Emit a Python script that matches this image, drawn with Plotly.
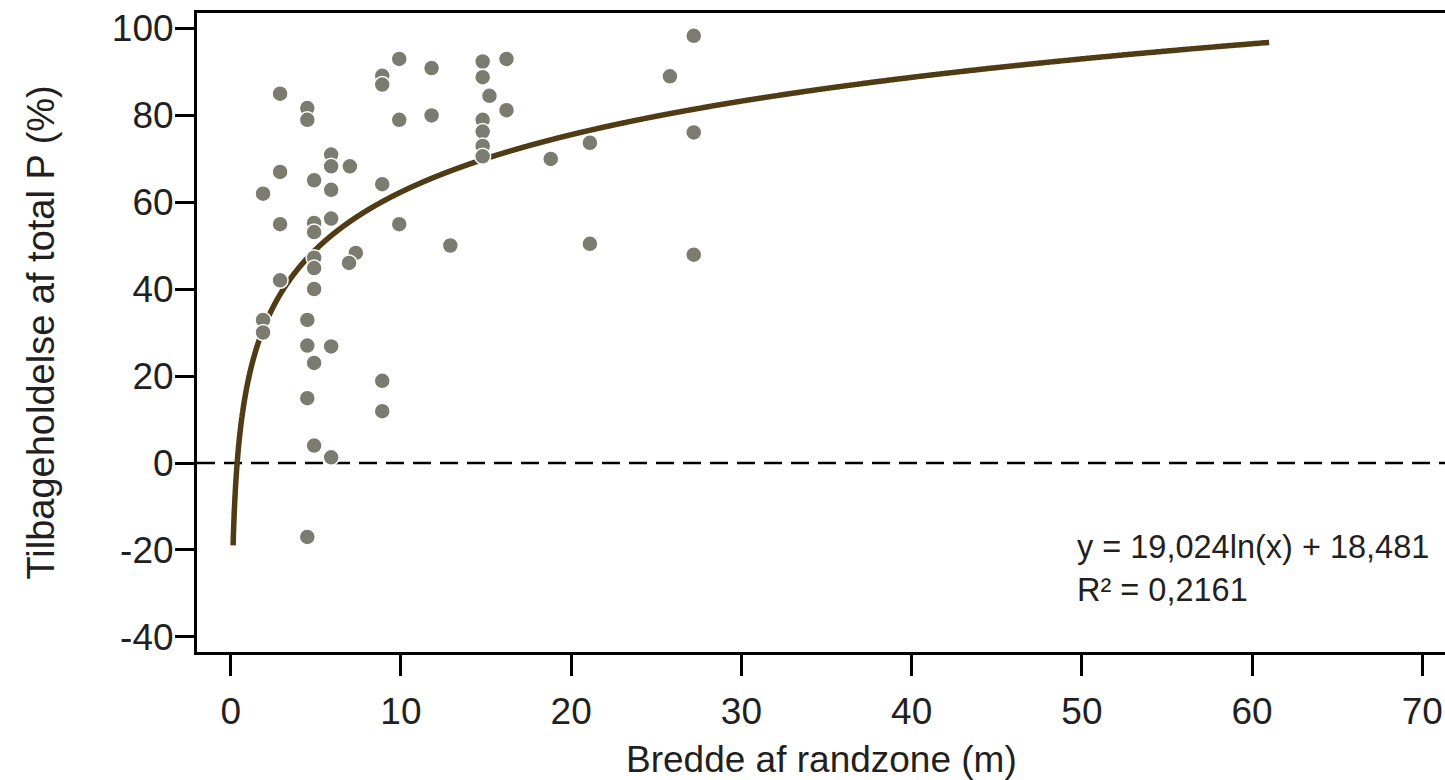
import numpy as np
import plotly.graph_objects as go

# Scatter data: width of buffer zone (m) and total-P retention (%)
bredde = [9.9, 11.8, 8.9, 8.9, 14.8, 14.8, 16.2, 15.2, 16.2, 14.8, 14.8, 14.8, 14.8,
          2.9, 4.5, 4.5, 9.9, 11.8, 5.9, 5.9, 7.0, 2.9, 4.9, 1.9, 5.9, 8.9,
          2.9, 5.9, 4.9, 4.9, 9.9, 12.9, 7.35, 6.95, 4.9, 4.9, 2.9, 4.9,
          1.9, 1.9, 4.5, 4.5, 5.9, 4.9, 8.9, 8.9, 4.5, 4.9, 5.9, 4.5,
          27.2, 25.8, 27.2, 21.1, 18.8, 21.1, 27.2]
tilbage = [92.9, 90.8, 89.0, 87.0, 92.3, 88.7, 92.9, 84.4, 81.1, 78.9, 76.2, 72.9, 70.5,
           84.9, 81.6, 78.9, 78.9, 79.9, 70.9, 68.2, 68.2, 66.9, 65.0, 61.9, 62.8, 64.1,
           54.9, 56.2, 55.2, 53.1, 54.9, 50.0, 48.3, 46.0, 47.2, 44.8, 42.0, 40.0,
           32.9, 30.0, 32.9, 27.0, 26.8, 23.0, 18.9, 11.9, 14.9, 4.0, 1.3, -17.0,
           98.2, 88.9, 76.0, 73.6, 69.9, 50.4, 47.9]

# Logarithmic trendline stated on the chart: y = 19,024 ln(x) + 18,481
trend_a = 19.024
trend_b = 18.481
trend_x_start = 0.14
trend_x_end = 61.0

x_ticks = [0, 10, 20, 30, 40, 50, 60, 70]
y_ticks = [-40, -20, 0, 20, 40, 60, 80, 100]

eq_text = "y = 19,024ln(x) + 18,481"
r2_text = "R² = 0,2161"
x_title = "Bredde af randzone (m)"
y_title = "Tilbageholdelse af total P (%)"

FONT = "Liberation Sans, Arial, sans-serif"
TXT = "#231f20"

tx = np.geomspace(trend_x_start, trend_x_end, 1500)
ty = trend_a * np.log(tx) + trend_b

fig = go.Figure()
fig.add_trace(go.Scatter(
    x=[-1.98, 71.4], y=[0, 0], mode="lines",
    line=dict(color="black", width=2.5, dash="18px,9px"),
    hoverinfo="skip", showlegend=False, cliponaxis=False))
fig.add_trace(go.Scatter(
    x=tx, y=ty, mode="lines",
    line=dict(color="#4f3c14", width=5.5, shape="spline"),
    showlegend=False))
fig.add_trace(go.Scatter(
    x=bredde, y=tilbage, mode="markers",
    marker=dict(size=16, color="#7b7c6f", line=dict(color="white", width=1.5)),
    showlegend=False))

fig.update_layout(
    width=1445, height=780,
    margin=dict(l=197, r=0, t=13, b=128),
    paper_bgcolor="white", plot_bgcolor="white",
    font=dict(family=FONT, size=37, color=TXT),
    xaxis=dict(range=[-1.98, 71.33], tickvals=x_ticks, ticktext=[str(v) for v in x_ticks],
               showgrid=False, zeroline=False, showline=True, linecolor="black",
               linewidth=3, mirror=True, ticks="outside", ticklen=21, tickwidth=3,
               tickcolor="black", tickfont=dict(size=37, color=TXT),
               ticklabelstandoff=4),
    yaxis=dict(range=[-43.45, 103.45], tickvals=y_ticks, ticktext=[str(v) for v in y_ticks],
               showgrid=False, zeroline=False, showline=True, linecolor="black",
               linewidth=3, ticks="outside", ticklen=19, tickwidth=3,
               tickcolor="black", tickfont=dict(size=37, color=TXT),
               ticklabelstandoff=-6),
    annotations=[
        dict(text=x_title, xref="paper", yref="paper", x=0.5, y=0, yshift=-107,
             xanchor="center", yanchor="middle", showarrow=False,
             font=dict(size=37, color=TXT)),
        dict(text=y_title, xref="paper", yref="paper", x=0, xshift=-157, y=0.5,
             xanchor="center", yanchor="middle", showarrow=False, textangle=-90,
             font=dict(size=38, color=TXT)),
        dict(text=eq_text, xref="paper", yref="paper", x=(1075 - 197) / 1248,
             y=(652 - 547) / 639, xanchor="left", yanchor="middle", showarrow=False,
             font=dict(size=32.5, color=TXT)),
        dict(text=r2_text, xref="paper", yref="paper", x=(1075 - 197) / 1248,
             y=(652 - 590) / 639, xanchor="left", yanchor="middle", showarrow=False,
             font=dict(size=32.5, color=TXT)),
    ],
)

fig.write_html("out.html", config={"displayModeBar": False},
               post_script="document.body.style.margin='0';document.body.style.padding='0';")
